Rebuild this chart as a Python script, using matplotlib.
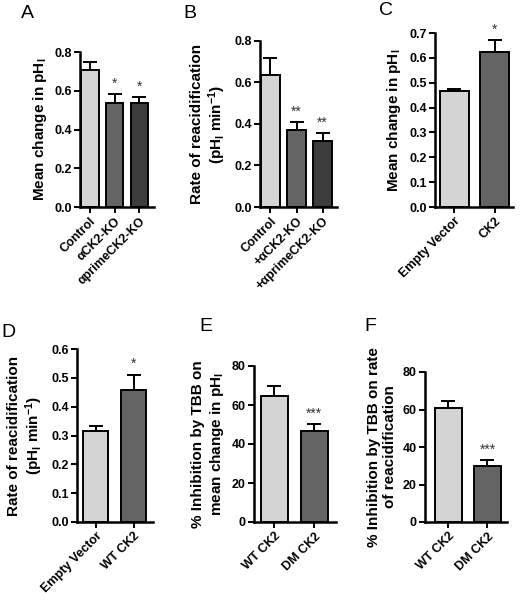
import matplotlib
matplotlib.use("Agg")
import matplotlib.pyplot as plt

plt.rcParams['font.family'] = ['Liberation Sans', 'DejaVu Sans']
plt.rcParams['mathtext.fontset'] = 'custom'
plt.rcParams['mathtext.rm'] = 'Liberation Sans:bold'
plt.rcParams['mathtext.it'] = 'Liberation Sans:bold'
plt.rcParams['mathtext.bf'] = 'Liberation Sans:bold'
plt.rcParams['mathtext.default'] = 'rm'

# ---- data ----
a_cats = ["Control", "\u03b1CK2-KO", "\u03b1primeCK2-KO"]
a_vals = [0.71, 0.54, 0.54]
a_errs = [0.04, 0.045, 0.03]
a_sig = ["", "*", "*"]

b_cats = ["Control", "+\u03b1CK2-KO", "+\u03b1primeCK2-KO"]
b_vals = [0.635, 0.37, 0.32]
b_errs = [0.08, 0.04, 0.035]
b_sig = ["", "**", "**"]

c_cats = ["Empty Vector", "CK2"]
c_vals = [0.465, 0.625]
c_errs = [0.01, 0.045]
c_sig = ["", "*"]

d_cats = ["Empty Vector", "WT CK2"]
d_vals = [0.315, 0.46]
d_errs = [0.02, 0.052]
d_sig = ["", "*"]

e_cats = ["WT CK2", "DM CK2"]
e_vals = [64.5, 46.5]
e_errs = [5.5, 4.0]
e_sig = ["", "***"]

f_cats = ["WT CK2", "DM CK2"]
f_vals = [61.0, 30.0]
f_errs = [3.5, 3.0]
f_sig = ["", "***"]

colors3 = ["#d4d4d4", "#646464", "#3c3c3c"]
colors2 = ["#d4d4d4", "#646464"]

fig = plt.figure(figsize=(5.2, 6.0), dpi=100)

def panel(rect, cats, vals, errs, sig, colors, ylim, yticks, yfmt, ylabel,
          xlim, width, letter, letter_pos, ylabel_pad=4):
    ax = fig.add_axes(rect)
    x = list(range(len(cats)))
    ax.bar(x, vals, width=width, color=colors, edgecolor='black', linewidth=1.4, zorder=2)
    ax.errorbar(x, vals, yerr=[[0]*len(vals), errs], fmt='none', ecolor='black',
                elinewidth=1.4, capsize=5, capthick=1.4, zorder=1)
    span = ylim[1] - ylim[0]
    for xi, v, e, s in zip(x, vals, errs, sig):
        if s:
            ax.text(xi, v + e + span * 0.02, s, ha='center', va='bottom', fontsize=10,
                    color='#333333')
    ax.set_xlim(*xlim)
    ax.set_ylim(*ylim)
    ax.set_yticks(yticks)
    ax.set_yticklabels([yfmt.format(t) for t in yticks], fontsize=9, fontweight='bold')
    ax.set_xticks(x)
    ax.set_xticklabels(cats, rotation=45, ha='right', rotation_mode='anchor',
                       fontsize=9, fontweight='bold')
    for sp in ['top', 'right']:
        ax.spines[sp].set_visible(False)
    for sp in ['left', 'bottom']:
        ax.spines[sp].set_linewidth(1.8)
    ax.tick_params(axis='both', width=1.4, length=4, direction='out', pad=2)
    ax.set_ylabel(ylabel, fontsize=11, fontweight='bold', labelpad=ylabel_pad)
    fig.text(letter_pos[0], letter_pos[1], letter, fontsize=14, ha='left', va='top')
    return ax

panel([0.154, 0.655, 0.142, 0.258], a_cats, a_vals, a_errs, a_sig, colors3,
      (0, 0.8), [0.0, 0.2, 0.4, 0.6, 0.8], "{:.1f}", "Mean change in pH$_\\mathrm{I}$",
      (-0.4, 2.6), 0.7, "A", (0.04, 0.992))

panel([0.5, 0.655, 0.148, 0.277], b_cats, b_vals, b_errs, b_sig, colors3,
      (0, 0.8), [0.0, 0.2, 0.4, 0.6, 0.8], "{:.1f}",
      "Rate of reacidification\n(pH$_\\mathrm{I}$ min$^{-1}$)",
      (-0.4, 2.55), 0.7, "B", (0.352, 0.992))

panel([0.8365, 0.655, 0.15, 0.29], c_cats, c_vals, c_errs, c_sig, colors2,
      (0, 0.7), [0.0, 0.1, 0.2, 0.3, 0.4, 0.5, 0.6, 0.7], "{:.1f}",
      "Mean change in pH$_\\mathrm{I}$",
      (-0.48, 1.45), 0.72, "C", (0.728, 0.997))

panel([0.148, 0.13, 0.146, 0.288], d_cats, d_vals, d_errs, d_sig, colors2,
      (0, 0.6), [0.0, 0.1, 0.2, 0.3, 0.4, 0.5, 0.6], "{:.1f}",
      "Rate of reacidification\n(pH$_\\mathrm{I}$ min$^{-1}$)",
      (-0.49, 1.51), 0.66, "D", (0.003, 0.46))

panel([0.488, 0.13, 0.158, 0.26], e_cats, e_vals, e_errs, e_sig, colors2,
      (0, 80), [0, 20, 40, 60, 80], "{:d}",
      "% Inhibition by TBB on\nmean change in pH$_\\mathrm{I}$",
      (-0.51, 1.54), 0.68, "E", (0.383, 0.47))

panel([0.817, 0.13, 0.158, 0.25], f_cats, f_vals, f_errs, f_sig, colors2,
      (0, 80), [0, 20, 40, 60, 80], "{:d}",
      "% Inhibition by TBB on rate\nof reacidification",
      (-0.6, 1.5), 0.69, "F", (0.7, 0.47))

fig.savefig("out.png", dpi=100)
